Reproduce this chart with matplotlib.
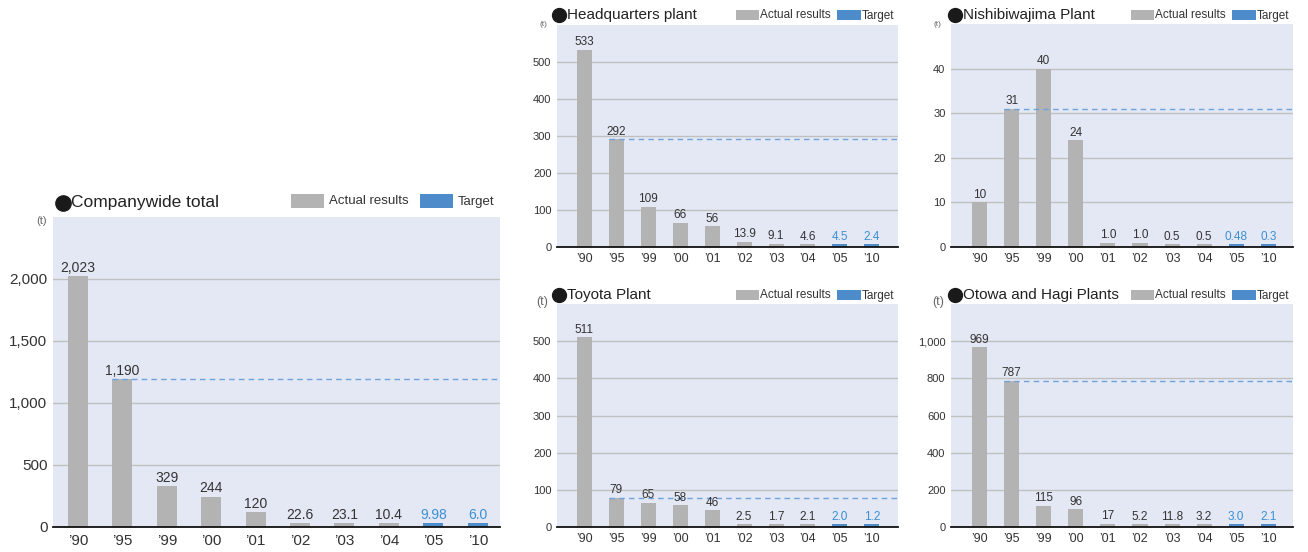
import matplotlib
matplotlib.use('Agg')
import matplotlib.pyplot as plt
from matplotlib.patches import Rectangle
from matplotlib.lines import Line2D
import numpy as np

W, H = 1308, 552

years = ["’90", "’95", "’99", "’00", "’01", "’02", "’03", "’04", "’05", "’10"]
n_actual = 8  # first 8 are actual results, last 2 are targets

companywide = [2023, 1190, 329, 244, 120, 22.6, 23.1, 10.4, 9.98, 6.0]
companywide_lbl = ["2,023", "1,190", "329", "244", "120", "22.6", "23.1", "10.4", "9.98", "6.0"]
hq = [533, 292, 109, 66, 56, 13.9, 9.1, 4.6, 4.5, 2.4]
hq_lbl = ["533", "292", "109", "66", "56", "13.9", "9.1", "4.6", "4.5", "2.4"]
nishi = [10, 31, 40, 24, 1.0, 1.0, 0.5, 0.5, 0.48, 0.3]
nishi_lbl = ["10", "31", "40", "24", "1.0", "1.0", "0.5", "0.5", "0.48", "0.3"]
toyota = [511, 79, 65, 58, 46, 2.5, 1.7, 2.1, 2.0, 1.2]
toyota_lbl = ["511", "79", "65", "58", "46", "2.5", "1.7", "2.1", "2.0", "1.2"]
otowa = [969, 787, 115, 96, 17, 5.2, 11.8, 3.2, 3.0, 2.1]
otowa_lbl = ["969", "787", "115", "96", "17", "5.2", "11.8", "3.2", "3.0", "2.1"]

BG = '#e3e8f4'
GRAY = '#b3b3b3'
BLUE = '#4d8bcb'
TXTBLUE = '#3b8fd6'
GRID = '#c0c0c0'
DASH = '#6fa3dc'
TXT = '#333333'

REG = ['Liberation Sans', 'DejaVu Sans']


def box(x0, y0, x1, y1):
    return [x0 / W, 1 - y1 / H, (x1 - x0) / W, (y1 - y0) / H]


def ftext(x, y, s, **kw):
    fig.text(x / W, 1 - y / H, s, va='center', **kw)


def frect(x0, y0, x1, y1, color):
    fig.add_artist(Rectangle((x0 / W, 1 - y1 / H), (x1 - x0) / W, (y1 - y0) / H,
                             transform=fig.transFigure, color=color, lw=0))


def bullet(x, y, size):
    fig.add_artist(Line2D([x / W], [1 - y / H], marker='o', markersize=size,
                          color='#1a1a1a', transform=fig.transFigure))


def panel(rect, values, lbls, ymax, ticks, ticklbls, xlim, width,
          tick_fs, lbl_fs, x_fs, xpad):
    ax = fig.add_axes(box(*rect))
    ax.set_facecolor(BG)
    x = np.arange(len(values))
    shown = [max(v, ymax * 0.012) for v in values]
    colors = [GRAY] * n_actual + [BLUE] * (len(values) - n_actual)
    ax.bar(x, shown, width=width, color=colors, zorder=3)
    for i, (s, t) in enumerate(zip(shown, lbls)):
        c = TXT if i < n_actual else TXTBLUE
        ax.annotate(t, (x[i], s), xytext=(0, 1), textcoords='offset points',
                    ha='center', va='bottom', fontsize=lbl_fs, family=REG,
                    color=c, zorder=5)
    # reference level: the 1995 result
    ax.hlines(values[1], 1 - width / 2, xlim[1], colors=DASH, linestyles=(0, (4, 3)),
              lw=1.0, zorder=4)
    ax.set_xlim(*xlim)
    ax.set_ylim(0, ymax)
    ax.set_yticks(ticks)
    ax.set_yticklabels(ticklbls, fontsize=tick_fs, family=REG, color=TXT)
    ax.set_xticks(x)
    ax.set_xticklabels(years, fontsize=x_fs, family=REG, color=TXT)
    ax.tick_params(length=0, pad=4)
    ax.tick_params(axis='x', pad=xpad)
    for t in ticks[1:]:
        ax.axhline(t, color=GRID, lw=1.0, zorder=1)
    for sp in ['left', 'right', 'top']:
        ax.spines[sp].set_visible(False)
    ax.spines['bottom'].set_color('#111111')
    ax.spines['bottom'].set_linewidth(1.3)
    ax.spines['bottom'].set_zorder(6)
    return ax


fig = plt.figure(figsize=(W / 100, H / 100), dpi=100)

# Companywide total
panel((53, 217, 500, 527), companywide, companywide_lbl, 2500,
      [0, 500, 1000, 1500, 2000], ["0", "500", "1,000", "1,500", "2,000"],
      (-0.56, 9.5), 0.45, 11, 10, 11, 5)
bullet(63, 203, 11)
ftext(71, 203, "Companywide total", fontsize=12.5, family=REG, color='#222222')
frect(291, 194, 324, 208, GRAY)
ftext(329, 201, "Actual results", fontsize=9.5, family=REG, color=TXT)
frect(420, 194, 453, 208, BLUE)
ftext(458, 202, "Target", fontsize=9.5, family=REG, color=TXT)
ftext(36, 221, "(t)", fontsize=8, family=REG, color='#666666')

small = [
    ((557, 25, 898, 247), hq, hq_lbl, 600, [0, 100, 200, 300, 400, 500],
     ["0", "100", "200", "300", "400", "500"], (-0.86, 9.82), 552, 15,
     "Headquarters plant", 539, 25, 6),
    ((951, 24, 1293, 247), nishi, nishi_lbl, 50, [0, 10, 20, 30, 40],
     ["0", "10", "20", "30", "40"], (-0.89, 9.77), 948, 15,
     "Nishibiwajima Plant", 934, 25, 6),
    ((557, 304, 898, 527), toyota, toyota_lbl, 600, [0, 100, 200, 300, 400, 500],
     ["0", "100", "200", "300", "400", "500"], (-0.86, 9.82), 552, 295,
     "Toyota Plant", 536, 302, 9),
    ((951, 304, 1293, 527), otowa, otowa_lbl, 1200, [0, 200, 400, 600, 800, 1000],
     ["0", "200", "400", "600", "800", "1,000"], (-0.89, 9.77), 948, 295,
     "Otowa and Hagi Plants", 932, 302, 9),
]

for rect, vals, lbls, ymax, ticks, tl, xl, tx, ty, title, ux, uy, ufs in small:
    panel(rect, vals, lbls, ymax, ticks, tl, xl, 0.47, 8, 8.5, 9, 4)
    bullet(tx + 7, ty, 10)
    ftext(tx + 15, ty, title, fontsize=11, family=REG, color='#222222')
    x1 = rect[2]
    # legend
    frect(x1 - 162, ty - 5, x1 - 139, ty + 5, GRAY)
    ftext(x1 - 138, ty, "Actual results", fontsize=8.5, family=REG, color=TXT)
    frect(x1 - 61, ty - 5, x1 - 37, ty + 5, BLUE)
    ftext(x1 - 36, ty + 1, "Target", fontsize=8.5, family=REG, color=TXT)
    ftext(ux, uy, "(t)", fontsize=ufs, family=REG, color='#666666')

fig.savefig('out.png', dpi=100, facecolor='white')
